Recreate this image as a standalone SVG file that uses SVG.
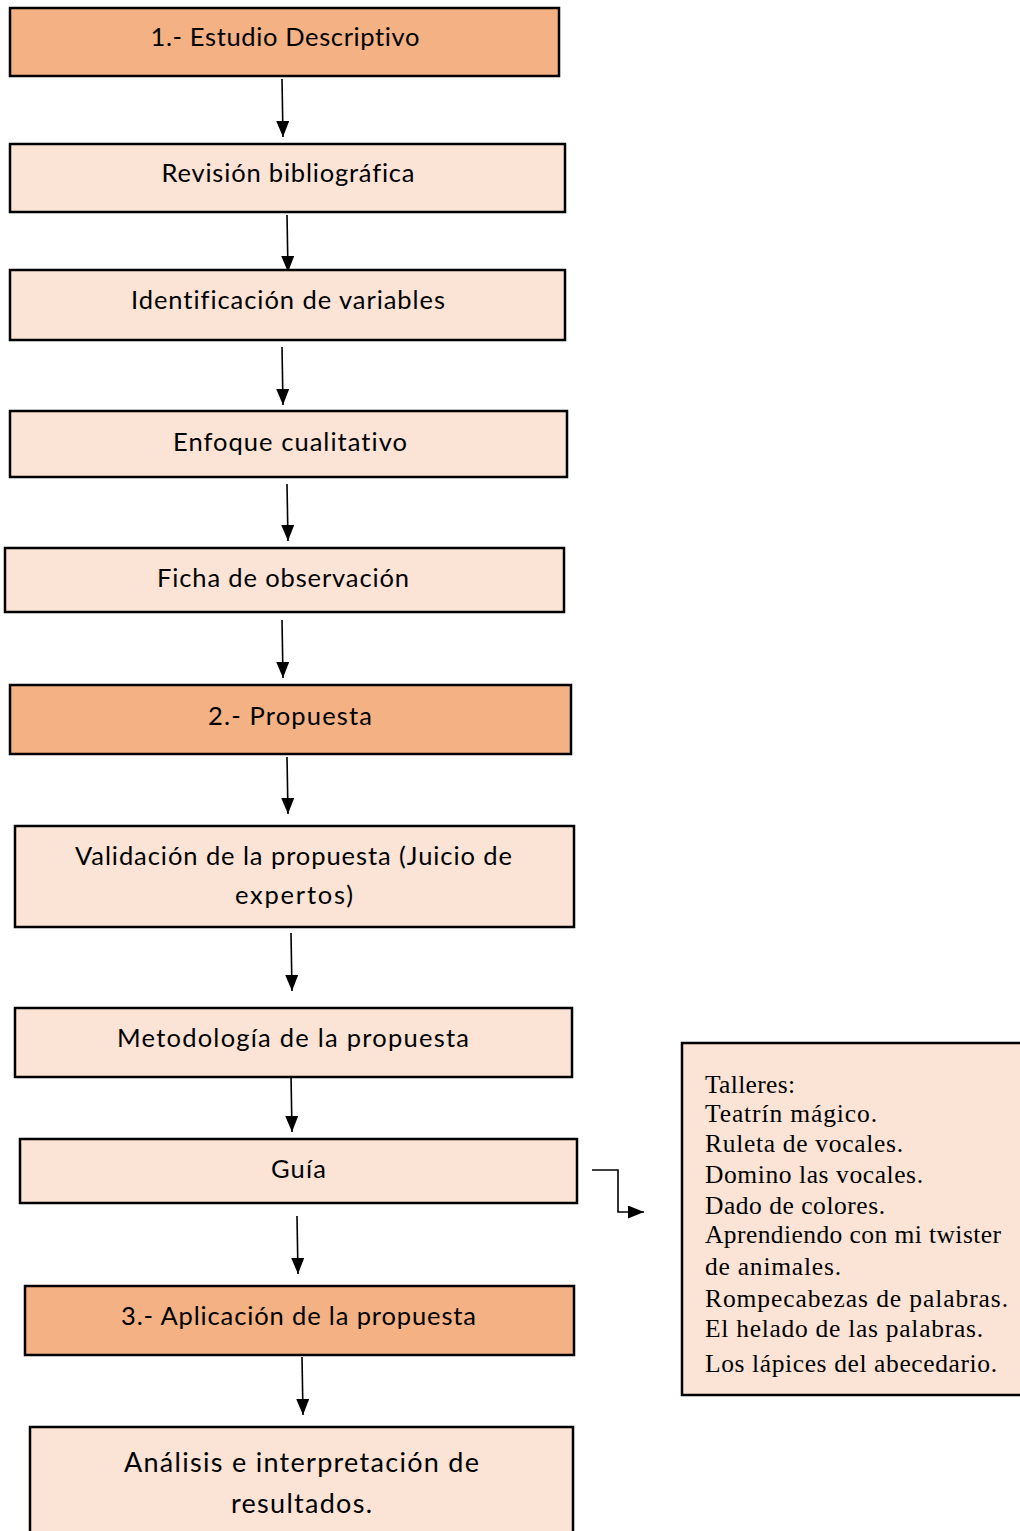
<svg xmlns="http://www.w3.org/2000/svg" width="1020" height="1531" viewBox="0 0 1020 1531">
<style>
.box{stroke:#000;stroke-width:2.5}
.main{fill:#F4B183}
.sub{fill:#FBE3D5}
.t{font-family:Lato,"Open Sans",sans-serif;font-size:25.5px;fill:#000;text-anchor:middle;font-variant-ligatures:none}
.tl{font-family:"Liberation Serif","Times New Roman",serif;font-size:25.5px;fill:#000}
.c{stroke:#000;stroke-width:1.6;fill:none;marker-end:url(#ah)}
</style>
<defs>
<marker id="ah" markerWidth="16" markerHeight="13" refX="16" refY="6.5" orient="auto" markerUnits="userSpaceOnUse" viewBox="0 0 16 13">
<path d="M0,0 L16,6.5 L0,13 z" fill="#000"/>
</marker>
</defs>
<rect width="1020" height="1531" fill="#fff"/>
<g id="connectors">
<path class="c" d="M282,79 L283,137"/>
<path class="c" d="M287,215 L288,272"/>
<path class="c" d="M282,347 L283,405"/>
<path class="c" d="M287,484 L288,541"/>
<path class="c" d="M282,620 L283,678"/>
<path class="c" d="M287,757 L288,814"/>
<path class="c" d="M291,933 L292,991"/>
<path class="c" d="M291,1075 L292,1132"/>
<path class="c" d="M297,1216 L298,1274"/>
<path class="c" d="M302,1357 L303,1415"/>
<path class="c" d="M592,1170 L618,1170 L618,1212 L644,1212"/>
</g>
<g id="n1"><rect class="box main" x="10" y="8" width="549" height="68"/><text class="t" x="285" y="46" textLength="269" lengthAdjust="spacing">1.- Estudio Descriptivo</text></g>
<g id="n2"><rect class="box sub" x="10" y="144" width="555" height="68"/><text class="t" x="288" y="182" textLength="253" lengthAdjust="spacing">Revisión bibliográfica</text></g>
<g id="n3"><rect class="box sub" x="10" y="270" width="555" height="70"/><text class="t" x="288" y="309" textLength="314" lengthAdjust="spacing">Identificación de variables</text></g>
<g id="n4"><rect class="box sub" x="10" y="411" width="557" height="66"/><text class="t" x="290" y="451" textLength="234" lengthAdjust="spacing">Enfoque cualitativo</text></g>
<g id="n5"><rect class="box sub" x="5" y="548" width="559" height="64"/><text class="t" x="283" y="587" textLength="252" lengthAdjust="spacing">Ficha de observación</text></g>
<g id="n6"><rect class="box main" x="10" y="685" width="561" height="69"/><text class="t" x="290" y="725" textLength="164" lengthAdjust="spacing">2.- Propuesta</text></g>
<g id="n7"><rect class="box sub" x="15" y="826" width="559" height="101"/><text class="t" x="293.5" y="865" textLength="437" lengthAdjust="spacing">Validación de la propuesta (Juicio de</text><text class="t" x="294" y="904" textLength="118" lengthAdjust="spacing">expertos)</text></g>
<g id="n8"><rect class="box sub" x="15" y="1008" width="557" height="69"/><text class="t" x="293" y="1047" textLength="352" lengthAdjust="spacing">Metodología de la propuesta</text></g>
<g id="n9"><rect class="box sub" x="20" y="1139" width="557" height="64"/><text class="t" x="298.5" y="1178" textLength="55" lengthAdjust="spacing">Guía</text></g>
<g id="n10"><rect class="box main" x="25" y="1286" width="549" height="69"/><text class="t" x="298.5" y="1325" textLength="355" lengthAdjust="spacing">3.- Aplicación de la propuesta</text></g>
<g id="n11"><rect class="box sub" x="30" y="1427" width="543" height="110"/><text class="t" x="301.5" y="1472" style="font-size:27px" textLength="355" lengthAdjust="spacing">Análisis e interpretación de</text><text class="t" x="301.5" y="1513" style="font-size:27px" textLength="141" lengthAdjust="spacing">resultados.</text></g>
<g id="talleres"><rect class="box sub" x="682" y="1043" width="345" height="352"/>
<text class="tl" x="705" y="1093" textLength="90" lengthAdjust="spacing">Talleres:</text>
<text class="tl" x="705" y="1122" textLength="172" lengthAdjust="spacing">Teatrín mágico.</text>
<text class="tl" x="705" y="1152" textLength="198" lengthAdjust="spacing">Ruleta de vocales.</text>
<text class="tl" x="705" y="1183" textLength="218" lengthAdjust="spacing">Domino las vocales.</text>
<text class="tl" x="705" y="1214" textLength="180" lengthAdjust="spacing">Dado de colores.</text>
<text class="tl" x="705" y="1243" textLength="296" lengthAdjust="spacing">Aprendiendo con mi twister</text>
<text class="tl" x="705" y="1275" textLength="136" lengthAdjust="spacing">de animales.</text>
<text class="tl" x="705" y="1307" textLength="303" lengthAdjust="spacing">Rompecabezas de palabras.</text>
<text class="tl" x="705" y="1337" textLength="278" lengthAdjust="spacing">El helado de las palabras.</text>
<text class="tl" x="705" y="1372" textLength="292" lengthAdjust="spacing">Los lápices del abecedario.</text>
</g>
</svg>
